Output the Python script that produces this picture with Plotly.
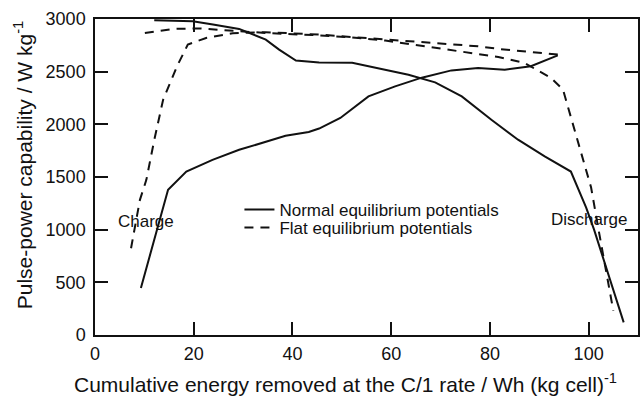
import plotly.graph_objects as go

# Cumulative energy removed (Wh/kg) and pulse-power capability (W/kg)
normal_charge_x = [9.3, 14.8, 18.5, 23.8, 29.2, 34.6, 38.6, 43.3, 45.4, 49.7, 55.4,
                   60.8, 66.2, 72.2, 77.6, 83.0, 88.3, 93.75]
normal_charge_y = [447, 1378, 1552, 1663, 1758, 1837, 1891, 1927, 1960, 2060, 2265,
                   2360, 2443, 2512, 2535, 2519, 2551, 2655]

normal_discharge_x = [12.0, 19.8, 23.9, 29.2, 34.6, 37.3, 40.7, 45.4, 52.1, 58.8, 63.5,
                      68.9, 74.3, 80.3, 85.7, 91.1, 96.4, 99.5, 101.1, 107.1]
normal_discharge_y = [2988, 2979, 2947, 2906, 2804, 2709, 2605, 2588, 2584, 2519, 2471,
                      2398, 2265, 2044, 1854, 1695, 1552, 1210, 1000, 120]

flat_charge_x = [7.3, 9.1, 10.4, 12.0, 13.8, 16.6, 18.8, 22.5, 27.9, 34.6, 45.4, 52.1,
                 58.8, 65.5, 73.6, 77.6, 82.0, 87.0, 93.75]
flat_charge_y = [824, 1283, 1473, 1850, 2234, 2550, 2757, 2820, 2865, 2875, 2852, 2828,
                 2805, 2785, 2755, 2741, 2715, 2695, 2662]

flat_discharge_x = [10.1, 15.8, 21.2, 27.9, 34.6, 45.4, 52.1, 58.8, 65.5, 73.6, 81.7,
                    87.0, 92.4, 94.8, 96.8, 98.7, 100.5, 102.2, 105.0]
flat_discharge_y = [2867, 2906, 2910, 2890, 2867, 2845, 2825, 2795, 2750, 2700, 2640,
                    2583, 2440, 2330, 2000, 1700, 1400, 950, 230]

series_names = ["Normal equilibrium potentials", "Flat equilibrium potentials"]
x_ticks = [0, 20, 40, 60, 80, 100]
y_ticks = [0, 500, 1000, 1500, 2000, 2500, 3000]

FONT = "Liberation Sans, Arial, Helvetica, sans-serif"
INK = "#111111"
solid = dict(color=INK, width=2)
dashed = dict(color=INK, width=2, dash="9px,7px")

fig = go.Figure()
fig.add_trace(go.Scatter(x=normal_charge_x, y=normal_charge_y, mode="lines",
                         line=solid, name=series_names[0], legendgroup="n",
                         legend="legend"))
fig.add_trace(go.Scatter(x=normal_discharge_x, y=normal_discharge_y, mode="lines",
                         line=solid, name=series_names[0], legendgroup="n",
                         showlegend=False))
fig.add_trace(go.Scatter(x=flat_charge_x, y=flat_charge_y, mode="lines",
                         line=dashed, name=series_names[1], legendgroup="f",
                         legend="legend2"))
fig.add_trace(go.Scatter(x=flat_discharge_x, y=flat_discharge_y, mode="lines",
                         line=dashed, name=series_names[1], legendgroup="f",
                         showlegend=False, legend="legend2"))

label_font = dict(size=17, color=INK, family=FONT)
fig.add_annotation(x=10.3, y=1077, text="Charge", showarrow=False, font=label_font)
fig.add_annotation(x=100.2, y=1093, text="Discharge", showarrow=False, font=label_font)

# axis titles
title_font = dict(size=21, color=INK, family=FONT)
fig.add_annotation(xref="paper", yref="paper", x=0.462, y=-0.152,
                   xanchor="center", yanchor="middle", showarrow=False,
                   text="Cumulative energy removed at the C/1 rate / Wh (kg cell)<sup>-1</sup>",
                   font=title_font)
fig.add_annotation(xref="paper", x=23, xshift=0, yref="paper", y=0.538,
                   showarrow=False, textangle=-90,
                   text="Pulse-power capability / W kg<sup>-1</sup>",
                   font=title_font, xanchor="center", yanchor="middle")
fig.layout.annotations[-1].update(x=(23 - 95) / 545)

axis_common = dict(
    showline=True, linecolor=INK, linewidth=1.5, mirror="ticks",
    ticks="inside", ticklen=13, tickwidth=1.5, tickcolor=INK,
    showgrid=False, zeroline=False,
    tickfont=dict(size=18, color=INK, family=FONT),
)

legend_common = dict(xanchor="left", yanchor="middle",
                     bgcolor="rgba(0,0,0,0)", borderwidth=0,
                     font=dict(size=17, color=INK, family=FONT),
                     itemwidth=30)

fig.update_layout(
    width=640, height=397,
    margin=dict(l=95, r=0, t=19, b=62),
    paper_bgcolor="white", plot_bgcolor="white",
    font=dict(family=FONT, color=INK),
    xaxis=dict(range=[0, 110], tickvals=x_ticks, ticklabelstandoff=2, **axis_common),
    yaxis=dict(range=[0, 3000], tickvals=y_ticks, ticklabelstandoff=4, **axis_common),
    showlegend=True,
    legend=dict(x=0.266, y=0.396, **legend_common),
    legend2=dict(x=0.266, y=0.339, **legend_common),
)

fig.write_html("out.html")
